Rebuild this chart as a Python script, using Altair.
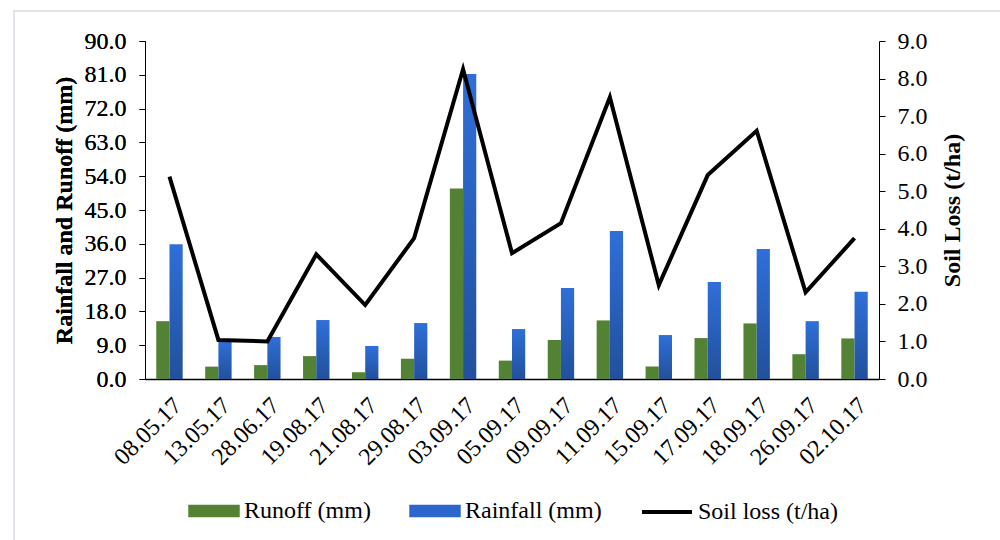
import altair as alt
import pandas as pd

dates = ["08.05.17", "13.05.17", "28.06.17", "19.08.17", "21.08.17", "29.08.17",
         "03.09.17", "05.09.17", "09.09.17", "11.09.17", "15.09.17", "17.09.17",
         "18.09.17", "26.09.17", "02.10.17"]
runoff = [15.4, 3.3, 3.7, 6.1, 1.8, 5.4, 50.7, 4.9, 10.4, 15.6, 3.3, 10.9, 14.8, 6.6, 10.8]
rainfall = [35.9, 10.3, 11.2, 15.7, 8.8, 14.9, 81.2, 13.3, 24.2, 39.4, 11.7, 25.8, 34.6, 15.4, 23.2]
soil_loss = [5.39, 1.04, 1.00, 3.32, 1.97, 3.75, 8.25, 3.35, 4.15, 7.50, 2.50, 5.43, 6.61, 2.31, 3.75]

series = ["Runoff (mm)", "Rainfall (mm)"]
line_name = "Soil loss (t/ha)"

bars_df = pd.DataFrame(
    [{"date": d, "series": series[0], "value": v} for d, v in zip(dates, runoff)]
    + [{"date": d, "series": series[1], "value": v} for d, v in zip(dates, rainfall)]
)
line_df = pd.DataFrame({"date": dates, "soil": soil_loss, "name": [line_name] * len(dates)})

FONT = "Liberation Serif"
FS = 24
TFS = 24
GREEN = "#548235"
BLUE = "#2c66cc"
blue_grad = alt.Gradient(
    gradient="linear",
    stops=[alt.GradientStop(color="#2f6fd9", offset=0),
           alt.GradientStop(color="#22509c", offset=1)],
    x1=0, x2=0, y1=0, y2=1,
)

x_enc = alt.X(
    "date:N", sort=dates, title=None,
    scale=alt.Scale(paddingInner=0.46, paddingOuter=0.23),
    axis=alt.Axis(labelAngle=-45, labelFontSize=FS, labelColor="black", ticks=False,
                  domainColor="black", domainWidth=1.5, labelPadding=14, labelFont=FONT),
)
y_left = alt.Y(
    "value:Q",
    scale=alt.Scale(domain=[0, 90], nice=False, zero=True),
    axis=alt.Axis(values=list(range(0, 91, 9)), format=".1f", title="Rainfall and Runoff (mm)",
                  titleFontWeight="bold", titleFontSize=TFS, labelFontSize=FS, labelColor="black",
                  titleColor="black", tickColor="black", domainColor="black", tickSize=6,
                  labelPadding=13, titlePadding=8, grid=False, orient="left"),
)
color_enc = alt.Color(
    "series:N",
    scale=alt.Scale(domain=series, range=[GREEN, BLUE]),
    legend=alt.Legend(
        title=None, orient="none", legendX=43, legendY=444, direction="horizontal",
        symbolType="M-1,-0.24H1V0.24H-1Z", symbolSize=2650, symbolStrokeWidth=0,
        labelFontSize=FS, labelFont=FONT, labelColor="black", labelOffset=4,
        columnPadding=38, labelLimit=300,
    ),
)
xoff = alt.XOffset("series:N", scale=alt.Scale(domain=series, paddingInner=0, paddingOuter=0))

bars_runoff = alt.Chart(bars_df).transform_filter(
    alt.datum.series == series[0]
).mark_bar(fill=GREEN).encode(x=x_enc, xOffset=xoff, y=y_left, color=color_enc)

bars_rain = alt.Chart(bars_df).transform_filter(
    alt.datum.series == series[1]
).mark_bar(fill=blue_grad).encode(x=x_enc, xOffset=xoff, y=y_left, color=color_enc)

line = alt.Chart(line_df).mark_line(strokeWidth=4).encode(
    x=x_enc,
    y=alt.Y("soil:Q", scale=alt.Scale(domain=[0, 9], nice=False),
            axis=alt.Axis(values=list(range(0, 10)), format=".1f", title="Soil Loss (t/ha)",
                          titleFontWeight="bold", titleFontSize=TFS, titleAngle=270,
                          titleBaseline="top",
                          labelFontSize=FS, labelColor="black", titleColor="black",
                          tickColor="black", domainColor="black", tickSize=6, labelPadding=12,
                          titlePadding=13, grid=False, orient="right")),
    stroke=alt.Stroke("name:N", scale=alt.Scale(domain=[line_name], range=["black"]),
                      legend=alt.Legend(title=None, orient="none", legendX=495, legendY=444,
                                        symbolType="stroke", symbolSize=2500, symbolStrokeWidth=4,
                                        labelFontSize=FS, labelFont=FONT, labelColor="black",
                                        labelOffset=4, labelLimit=300)),
)

frame = alt.Chart(pd.DataFrame({"a": [0]})).mark_rect(
    fill=None, stroke="#dfe4ea", strokeWidth=2, clip=False
).encode(x=alt.value(-131), x2=alt.value(870), y=alt.value(-30), y2=alt.value(520))

chart = alt.layer(frame, bars_runoff, bars_rain, line).resolve_scale(
    y="independent"
).properties(
    width=734, height=338,
    autosize=alt.AutoSizeParams(type="none"),
    padding={"left": 145, "top": 41, "right": 121, "bottom": 161},
).configure(font=FONT).configure_view(stroke=None).configure_axis(
    labelFont=FONT, titleFont=FONT
)

chart.save("out.html", embed_options={"renderer": "svg", "actions": False})
